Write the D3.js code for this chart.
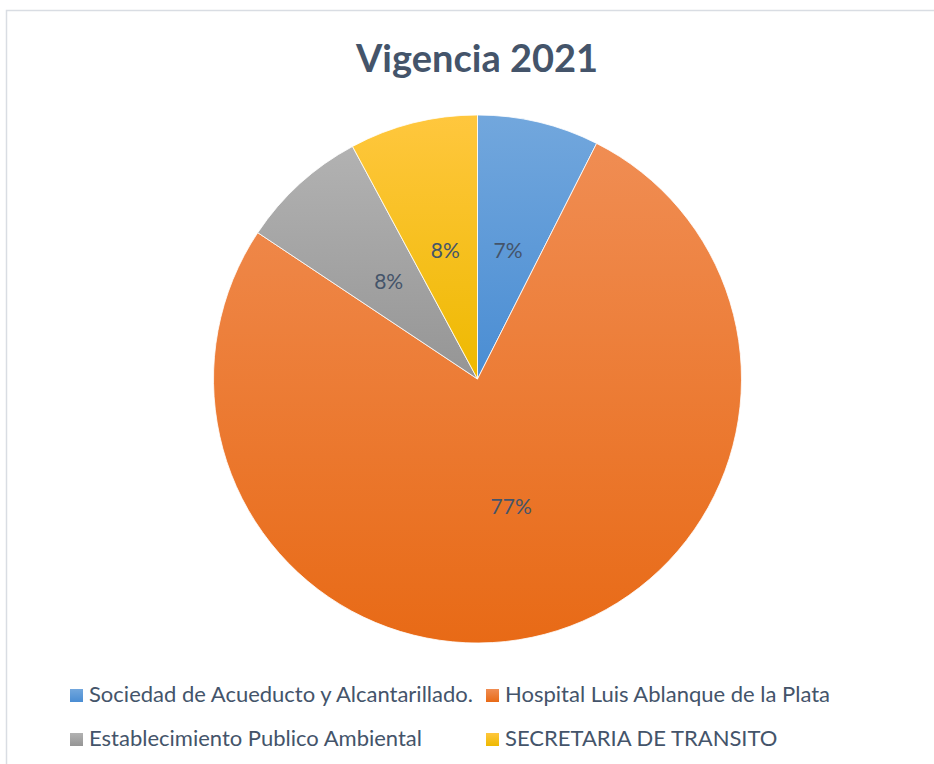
<!DOCTYPE html>
<html>
<head>
<meta charset="utf-8">
<script src="https://cdn.jsdelivr.net/npm/d3@7"></script>
<style>
  body { margin: 0; background: #fff; }
  svg { display: block; }
</style>
</head>
<body>
<svg width="934" height="764"></svg>
<script>
// data
const entities = [
    "Sociedad de Acueducto y Alcantarillado.",
    "Hospital Luis Ablanque de la Plata",
    "Establecimiento Publico Ambiental",
    "SECRETARIA DE TRANSITO"
];
const shares = [7.45, 76.9, 7.8, 7.85];
const shareLabels = ["7%", "77%", "8%", "8%"];
const topColors = ["#72a7dd", "#f08d53", "#b2b2b2", "#ffc73e"];
const bottomColors = ["#4a8dd3", "#e86a16", "#959595", "#eeb900"];

const svg = d3.select("svg");
const textColor = "#44546a";
const font = "Lato, 'Open Sans', sans-serif";

// chart frame (runs off the right and bottom edge)
svg.append("rect")
    .attr("x", 6.5)
    .attr("y", 10.5)
    .attr("width", 940)
    .attr("height", 770)
    .attr("fill", "#fff")
    .attr("stroke", "#d9dde3")
    .attr("stroke-width", 1.5);

// title
svg.append("text")
    .attr("x", 477)
    .attr("y", 72)
    .attr("text-anchor", "middle")
    .attr("font-family", font)
    .attr("font-weight", "bold")
    .attr("font-size", "38px")
    .attr("fill", textColor)
    .text("Vigencia 2021");

// vertical gradients, one per slice
const defs = svg.append("defs");
entities.forEach((e, i) => {
    const grad = defs.append("linearGradient")
        .attr("id", "grad" + i)
        .attr("x1", 0).attr("y1", 0)
        .attr("x2", 0).attr("y2", 1);
    grad.append("stop").attr("offset", "0%").attr("stop-color", topColors[i]);
    grad.append("stop").attr("offset", "100%").attr("stop-color", bottomColors[i]);
});

const radius = 264;
const cx = 477.5, cy = 379;

const pie = d3.pie().sort(null).value(d => d)(shares);
const arc = d3.arc().innerRadius(0).outerRadius(radius);

const g = svg.append("g")
    .attr("transform", `translate(${cx}, ${cy})`);

g.selectAll(".slice")
    .data(pie)
    .enter()
    .append("path")
    .attr("class", "slice")
    .attr("d", arc)
    .attr("fill", (d, i) => `url(#grad${i})`)
    .attr("stroke", "#fff")
    .attr("stroke-width", 0.8);

// percent labels at the half radius
g.selectAll(".pct")
    .data(pie)
    .enter()
    .append("text")
    .attr("class", "pct")
    .attr("x", d => arc.centroid(d)[0])
    .attr("y", d => arc.centroid(d)[1])
    .attr("dy", "0.35em")
    .attr("text-anchor", "middle")
    .attr("font-family", font)
    .attr("font-size", "21px")
    .attr("fill", textColor)
    .text((d, i) => shareLabels[i]);

// legend, two columns
const legendX = [70, 486];
const legendY = [702, 746];

const legend = svg.selectAll(".legend-item")
    .data(entities)
    .enter()
    .append("g")
    .attr("class", "legend-item")
    .attr("transform", (d, i) => `translate(${legendX[i % 2]}, ${legendY[Math.floor(i / 2)]})`);

legend.append("rect")
    .attr("x", 0)
    .attr("y", -13)
    .attr("width", 13)
    .attr("height", 13)
    .attr("fill", (d, i) => `url(#grad${i})`);

legend.append("text")
    .attr("x", 19)
    .attr("y", 0)
    .attr("font-family", font)
    .attr("font-size", "22px")
    .attr("fill", textColor)
    .text(d => d);
</script>
</body>
</html>
